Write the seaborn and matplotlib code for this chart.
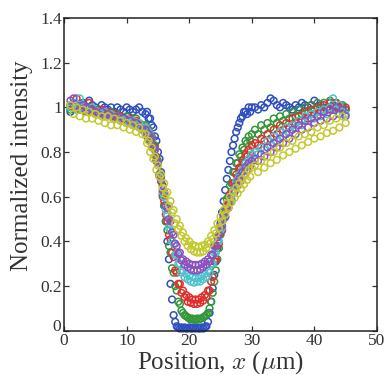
import numpy as np
import pandas as pd
import matplotlib
matplotlib.use("Agg")
import matplotlib.pyplot as plt
import matplotlib.transforms as mtransforms
import seaborn as sns

# ---------------- data ----------------
x_a = [1.0, 1.5, 2.0, 2.5, 3.0, 3.5, 4.0, 4.5, 5.0, 5.5, 6.0, 6.5, 7.0, 7.5, 8.0, 8.5,
       9.0, 9.5, 10.0, 10.5, 11.0, 11.5, 12.0, 12.5]
x_b = [13.0, 13.25, 13.5, 13.75, 14.0, 14.25, 14.5, 14.75, 15.0, 15.25, 15.5, 15.75,
       16.0, 16.25, 16.5, 16.75, 17.0, 17.25, 17.5, 17.75, 18.0, 18.25, 18.5, 18.75,
       19.0, 19.25, 19.5, 19.75, 20.0, 20.25, 20.5, 20.75, 21.0, 21.25, 21.5, 21.75,
       22.0, 22.25, 22.5, 22.75, 23.0, 23.25, 23.5, 23.75, 24.0, 24.25, 24.5, 24.75,
       25.0, 25.25, 25.5, 25.75, 26.0, 26.25, 26.5, 26.75, 27.0, 27.25, 27.5, 27.75,
       28.0, 28.25, 28.5, 28.75, 29.0, 29.25, 29.5, 29.75, 30.0]
x_c = [30.5, 31.0, 31.5, 32.0, 32.5, 33.0, 33.5, 34.0, 34.5, 35.0, 35.5, 36.0, 36.5,
       37.0, 37.5, 38.0, 38.5, 39.0, 39.5, 40.0, 40.5, 41.0, 41.5, 42.0, 42.5, 43.0,
       43.5, 44.0, 44.5, 45.0]
position = x_a + x_b + x_c

blue = [0.98, 1.00, 0.99, 1.01, 1.02, 1.00, 1.03, 1.01, 1.00, 0.99, 1.01, 1.00, 0.99, 1.00,
        0.98, 1.00, 0.99, 0.98, 1.00, 0.99, 0.98, 0.99, 1.00, 0.98,
        0.97, 0.98, 0.95, 0.95, 0.92, 0.91, 0.87, 0.85, 0.80, 0.77, 0.71, 0.65,
        0.56, 0.49, 0.40, 0.32, 0.21, 0.14, 0.07, 0.04, 0.02, 0.015, 0.01, 0.015,
        0.01, 0.015, 0.01, 0.01, 0.015, 0.01, 0.01, 0.015, 0.01, 0.015, 0.01, 0.01,
        0.015, 0.01, 0.015, 0.02, 0.04, 0.08, 0.13, 0.19, 0.25, 0.31, 0.37, 0.43,
        0.48, 0.53, 0.58, 0.63, 0.68, 0.72, 0.76, 0.80, 0.83, 0.86, 0.89, 0.91,
        0.93, 0.95, 0.96, 0.98, 0.98, 0.97, 1.00, 0.98, 1.00,
        1.00, 0.99, 1.01, 1.00, 1.02, 1.04, 1.03, 1.01, 1.00, 1.02, 1.01, 1.00, 0.99,
        1.01, 1.00, 1.02, 1.01, 1.00, 1.01, 1.03, 1.00, 1.01, 0.99, 1.00, 1.02, 1.01,
        1.00, 1.01, 1.00, 0.99]
green = [0.99, 1.02, 1.00, 0.99, 1.01, 0.98, 1.00, 0.99, 0.98, 0.99, 0.97, 0.98, 0.97, 0.98,
         0.96, 0.97, 0.96, 0.95, 0.96, 0.95, 0.94, 0.95, 0.93, 0.92,
         0.92, 0.89, 0.90, 0.86, 0.87, 0.83, 0.83, 0.78, 0.76, 0.70, 0.67, 0.60,
         0.56, 0.49, 0.45, 0.38, 0.35, 0.28, 0.26, 0.20, 0.18, 0.13, 0.12, 0.09,
         0.08, 0.07, 0.065, 0.06, 0.055, 0.05, 0.055, 0.05, 0.05, 0.055, 0.05, 0.055,
         0.055, 0.06, 0.065, 0.07, 0.08, 0.10, 0.13, 0.17, 0.22, 0.27, 0.32, 0.37,
         0.43, 0.45, 0.51, 0.53, 0.59, 0.60, 0.65, 0.66, 0.71, 0.71, 0.75, 0.75,
         0.79, 0.78, 0.82, 0.81, 0.85, 0.84, 0.87, 0.85, 0.88,
         0.90, 0.88, 0.92, 0.90, 0.93, 0.91, 0.95, 0.93, 0.96, 0.94, 0.97, 0.95, 0.98,
         0.96, 0.99, 0.97, 1.00, 0.98, 1.01, 0.99, 1.02, 1.00, 1.02, 0.99, 1.03, 1.00,
         1.02, 1.00, 1.01, 0.99]
red = [1.01, 1.00, 1.04, 0.99, 1.00, 0.98, 1.02, 0.99, 0.98, 0.97, 0.99, 0.97, 0.98, 0.96,
       0.97, 0.95, 0.96, 0.95, 0.94, 0.95, 0.93, 0.94, 0.92, 0.91,
       0.91, 0.88, 0.89, 0.85, 0.86, 0.82, 0.82, 0.77, 0.75, 0.69, 0.67, 0.61,
       0.58, 0.52, 0.49, 0.43, 0.41, 0.35, 0.33, 0.27, 0.26, 0.21, 0.21, 0.17,
       0.18, 0.15, 0.16, 0.13, 0.15, 0.125, 0.14, 0.12, 0.14, 0.12, 0.14, 0.125,
       0.15, 0.135, 0.16, 0.15, 0.18, 0.18, 0.22, 0.24, 0.31, 0.32, 0.38, 0.39,
       0.44, 0.45, 0.50, 0.51, 0.56, 0.57, 0.61, 0.62, 0.66, 0.66, 0.70, 0.69,
       0.73, 0.73, 0.76, 0.75, 0.79, 0.78, 0.81, 0.80, 0.83,
       0.84, 0.83, 0.86, 0.85, 0.88, 0.86, 0.90, 0.88, 0.92, 0.90, 0.93, 0.91, 0.95,
       0.93, 0.96, 0.94, 0.98, 0.95, 0.99, 0.97, 1.00, 0.98, 1.01, 0.99, 1.02, 0.99,
       1.02, 1.00, 0.99, 1.00]
cyan = [1.00, 1.02, 0.99, 1.04, 1.00, 0.99, 0.98, 1.00, 0.97, 0.98, 0.97, 0.98, 0.96, 0.97,
        0.95, 0.96, 0.95, 0.94, 0.95, 0.93, 0.94, 0.92, 0.93, 0.91,
        0.91, 0.88, 0.89, 0.85, 0.86, 0.82, 0.81, 0.76, 0.75, 0.70, 0.68, 0.62,
        0.60, 0.54, 0.52, 0.46, 0.45, 0.40, 0.39, 0.34, 0.34, 0.30, 0.30, 0.26,
        0.27, 0.24, 0.255, 0.23, 0.245, 0.22, 0.24, 0.215, 0.235, 0.22, 0.235, 0.22,
        0.245, 0.23, 0.255, 0.24, 0.27, 0.26, 0.30, 0.30, 0.35, 0.35, 0.40, 0.40,
        0.45, 0.46, 0.50, 0.51, 0.55, 0.55, 0.59, 0.59, 0.63, 0.63, 0.67, 0.66,
        0.70, 0.69, 0.72, 0.72, 0.75, 0.74, 0.77, 0.76, 0.79,
        0.80, 0.79, 0.82, 0.81, 0.85, 0.83, 0.87, 0.85, 0.89, 0.87, 0.91, 0.89, 0.92,
        0.91, 0.94, 0.92, 0.96, 0.94, 0.97, 0.95, 0.98, 0.96, 0.99, 0.97, 1.00, 1.04,
        0.99, 1.01, 0.98, 0.97]
purple = [1.03, 1.04, 1.00, 0.99, 1.01, 1.00, 0.98, 0.99, 0.98, 0.97, 0.98, 0.96, 0.97, 0.96,
          0.95, 0.96, 0.94, 0.95, 0.93, 0.94, 0.92, 0.93, 0.91, 0.90,
          0.90, 0.87, 0.88, 0.85, 0.86, 0.82, 0.81, 0.76, 0.75, 0.70, 0.69, 0.63,
          0.62, 0.56, 0.55, 0.50, 0.49, 0.44, 0.43, 0.39, 0.38, 0.345, 0.35, 0.315,
          0.32, 0.295, 0.31, 0.285, 0.30, 0.275, 0.295, 0.27, 0.295, 0.27, 0.295, 0.275,
          0.30, 0.285, 0.31, 0.295, 0.32, 0.31, 0.34, 0.34, 0.38, 0.38, 0.42, 0.43,
          0.47, 0.47, 0.51, 0.51, 0.55, 0.55, 0.59, 0.58, 0.62, 0.62, 0.65, 0.65,
          0.68, 0.67, 0.71, 0.70, 0.73, 0.72, 0.75, 0.74, 0.76,
          0.77, 0.76, 0.79, 0.78, 0.82, 0.80, 0.84, 0.82, 0.86, 0.84, 0.88, 0.86, 0.90,
          0.88, 0.92, 0.90, 0.94, 0.91, 0.95, 0.93, 0.96, 0.94, 0.98, 0.95, 0.99, 0.96,
          1.00, 0.97, 0.99, 0.96]
yellow = [1.01, 0.97, 1.00, 0.96, 0.99, 0.95, 0.98, 0.95, 0.97, 0.94, 0.96, 0.93, 0.96, 0.92,
          0.95, 0.92, 0.94, 0.91, 0.93, 0.90, 0.92, 0.89, 0.91, 0.88,
          0.88, 0.84, 0.85, 0.80, 0.82, 0.77, 0.78, 0.72, 0.74, 0.69, 0.70, 0.64,
          0.66, 0.61, 0.62, 0.56, 0.58, 0.53, 0.54, 0.48, 0.50, 0.455, 0.47, 0.425,
          0.44, 0.40, 0.415, 0.38, 0.40, 0.365, 0.385, 0.355, 0.38, 0.35, 0.375, 0.35,
          0.38, 0.355, 0.385, 0.37, 0.40, 0.39, 0.425, 0.41, 0.45, 0.435, 0.48, 0.46,
          0.51, 0.49, 0.54, 0.52, 0.57, 0.55, 0.60, 0.575, 0.62, 0.595, 0.64, 0.615,
          0.66, 0.635, 0.68, 0.655, 0.70, 0.675, 0.72, 0.69, 0.73,
          0.74, 0.71, 0.76, 0.73, 0.78, 0.75, 0.80, 0.765, 0.82, 0.785, 0.84, 0.80, 0.85,
          0.815, 0.87, 0.83, 0.88, 0.845, 0.89, 0.86, 0.91, 0.87, 0.92, 0.885, 0.94, 0.895,
          0.95, 0.91, 0.96, 0.93]

series_names = ["blue", "green", "red", "cyan", "purple", "yellow"]
series_values = [blue, green, red, cyan, purple, yellow]
series_colors = ["#2f4fc0", "#34973a", "#e0302e", "#4cc3cb", "#8b50c0", "#c3c92f"]

x_ticks = [0, 10, 20, 30, 40, 50]
y_ticks = [0, 0.2, 0.4, 0.6, 0.8, 1.0, 1.2, 1.4]
y_tick_labels = ["0", "0.2", "0.4", "0.6", "0.8", "1", "1.2", "1.4"]

# ---------------- build table ----------------
frames = []
for name, vals in zip(series_names, series_values):
    frames.append(pd.DataFrame({"x": position, "y": vals, "series": name}))
df = pd.concat(frames, ignore_index=True)

# ---------------- style ----------------
sns.set_style("ticks")
plt.rcParams["font.family"] = ["Liberation Serif", "DejaVu Serif"]
plt.rcParams["mathtext.fontset"] = "cm"
plt.rcParams["xtick.direction"] = "in"
plt.rcParams["ytick.direction"] = "in"

fig = plt.figure(figsize=(3.91, 3.75), dpi=100)
ax = fig.add_axes([0.164, 0.118, 0.800, 0.834])

sns.scatterplot(data=df, x="x", y="y", hue="series", palette=dict(zip(series_names, series_colors)),
                hue_order=series_names, marker="o", s=23, linewidth=1.1, legend=False, ax=ax,
                clip_on=False)
for coll in ax.collections:
    fc = coll.get_facecolors()
    coll.set_edgecolors(fc)
    coll.set_facecolors("none")

ax.set_xlim(0, 50)
ax.set_ylim(0, 1.4)
ax.set_xticks(x_ticks)
ax.set_xticklabels([str(t) for t in x_ticks])
ax.set_yticks(y_ticks)
ax.set_yticklabels(y_tick_labels)
ax.tick_params(axis="both", which="both", direction="in", top=True, right=True,
               length=3.5, width=0.9, labelsize=12.5, colors="#333333", pad=1.5)
for sp in ax.spines.values():
    sp.set_visible(True)
    sp.set_linewidth(1.1)
    sp.set_color("#222222")

# nudge the y "0" label up a little so it does not collide with the x "0"
zero_lbl = ax.get_yticklabels()[0]
zero_lbl.set_transform(zero_lbl.get_transform() +
                       mtransforms.ScaledTranslation(-1 / 72, 4 / 72, fig.dpi_scale_trans))

ax.set_xlabel(r"Position, $x$ ($\mu$m)", fontsize=18, color="#333333", labelpad=0)
ax.set_ylabel("Normalized intensity", fontsize=18, color="#333333")
ax.yaxis.set_label_coords(-0.10, 0.527)

fig.savefig("out.png", dpi=100)
